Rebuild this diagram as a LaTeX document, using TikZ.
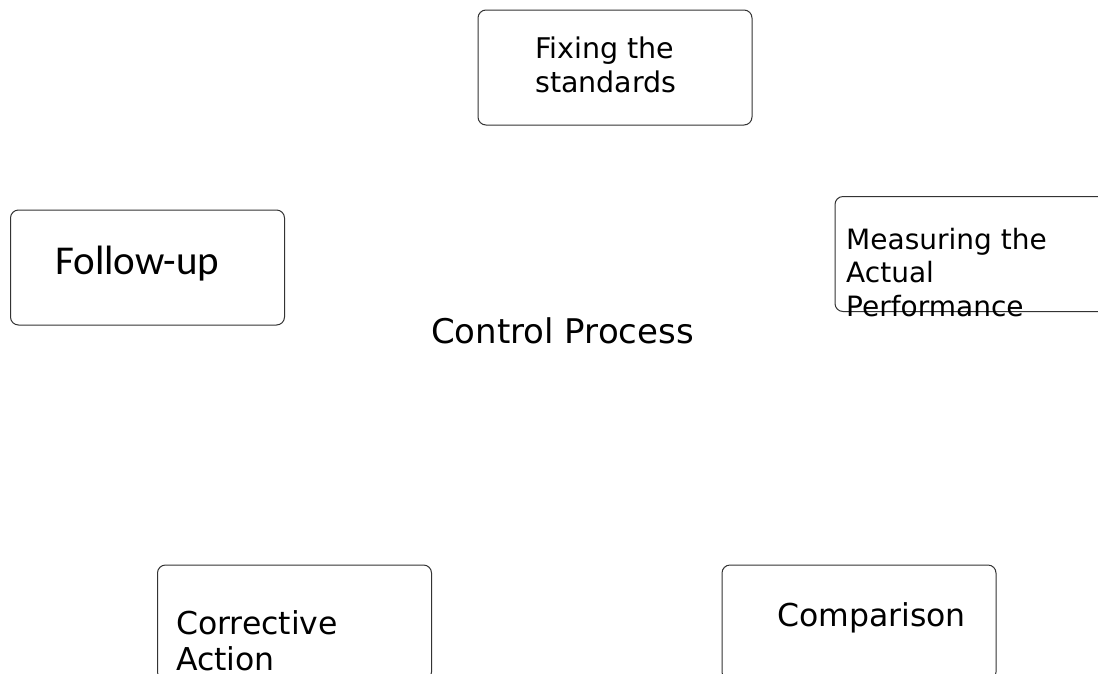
\documentclass[tikz,border=0pt]{standalone}
\usepackage{fontspec}
\setmainfont{DejaVu Sans}
\newfontfamily\carlito{Carlito}
\definecolor{edge}{HTML}{333333}
\tikzset{
  stepbox/.style={draw=edge, line width=1pt, rounded corners=8pt, minimum width=274pt, minimum height=115pt, inner sep=0pt},
  lbl/.style={anchor=base west, inner sep=0pt, text=black},
}
\begin{document}
\begin{tikzpicture}[x=1pt,y=-1pt]
\useasboundingbox (0,0) rectangle (1098,673);
\clip (0,0) rectangle (1098,673);
\fill[white] (0,0) rectangle (1098,673);
% boxes
\node[stepbox] (fix) at (615,67.5) {};
\node[stepbox] (meas) at (972,254) {};
\node[stepbox] (follow) at (147.5,267.5) {};
\node[stepbox] (corr) at (294.5,622.5) {};
\node[stepbox] (comp) at (859,622.5) {};
% texts
\node[lbl, font=\fontsize{28.5}{34}\selectfont] (fix1) at (535,58) {Fixing the};
\node[lbl, font=\fontsize{28.5}{34}\selectfont] (fix2) at (535,92) {standards};
\node[lbl, font=\fontsize{28}{32}\selectfont] (meas1) at (846,249) {Measuring the};
\node[lbl, font=\fontsize{28}{32}\selectfont] (meas2) at (846,282) {Actual};
\node[lbl, font=\fontsize{28}{32}\selectfont] (meas3) at (846,316) {Performance};
\node[lbl, font=\carlito\fontsize{41}{48}\selectfont] (fol1) at (55,274) {Follow-up};
\node[anchor=base, inner sep=0pt, font=\fontsize{34}{40}\selectfont] (title) at (562.5,343) {Control Process};
\node[lbl, font=\fontsize{31.5}{37}\selectfont] (corr1) at (176,634) {Corrective};
\node[lbl, font=\fontsize{31.5}{37}\selectfont] (corr2) at (176,670) {Action};
\node[lbl, font=\fontsize{31.5}{37}\selectfont] (comp1) at (777,626) {Comparison};
\end{tikzpicture}
\end{document}
